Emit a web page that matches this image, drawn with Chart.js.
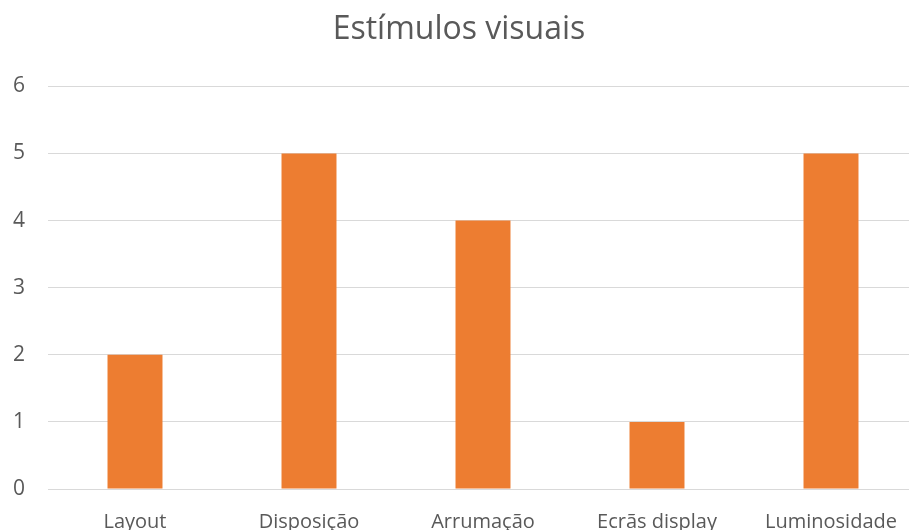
<!DOCTYPE html>
<html lang="pt">
<head>
  <meta charset="UTF-8">
  <title>Estímulos visuais</title>
  <script src="https://cdn.jsdelivr.net/npm/chart.js@4/dist/chart.umd.min.js"></script>
  <style>
    body { margin: 0; overflow: hidden; background: #fff; }
  </style>
</head>
<body>
  <canvas id="myChart" width="946" height="530"></canvas>

<script>
const categories = ['Layout', 'Disposição', 'Arrumação', 'Ecrãs display', 'Luminosidade'];
const values = [2, 5, 4, 1, 5];
const yTicks = [0, 1, 2, 3, 4, 5, 6];

const textColor = '#595959';

let ctx = document.getElementById('myChart').getContext('2d');

let chart = new Chart(ctx, {
  type: 'bar',
  data: {
    labels: categories,
    datasets: [{
      data: values,
      backgroundColor: '#ED7D31',
      barPercentage: 0.316,
      categoryPercentage: 1
    }]
  },
  options: {
    responsive: false,
    animation: false,
    layout: { padding: { left: 0, right: 28, top: 0, bottom: 0 } },
    plugins: {
      legend: { display: false },
      tooltip: { enabled: false },
      title: {
        display: true,
        text: 'Estímulos visuais',
        color: textColor,
        font: { family: 'Open Sans', size: 32, weight: 'normal', lineHeight: 1.2 },
        padding: { top: 11, bottom: 37 }
      }
    },
    scales: {
      x: {
        grid: { display: false },
        border: { display: false },
        ticks: {
          color: textColor,
          font: { family: 'Open Sans', size: 20 },
          padding: 13,
          maxRotation: 0
        },
        afterFit: s => { s.height = 41; }
      },
      y: {
        min: 0,
        max: 6,
        afterBuildTicks: s => { s.ticks = yTicks.map(v => ({ value: v })); },
        grid: { color: '#D9D9D9', lineWidth: 1, drawTicks: false },
        border: { display: false },
        ticks: {
          color: textColor,
          font: { family: 'Open Sans', size: 21 },
          padding: 23
        },
        afterFit: s => { s.width = 48; }
      }
    }
  }
});
</script>
</body>
</html>
